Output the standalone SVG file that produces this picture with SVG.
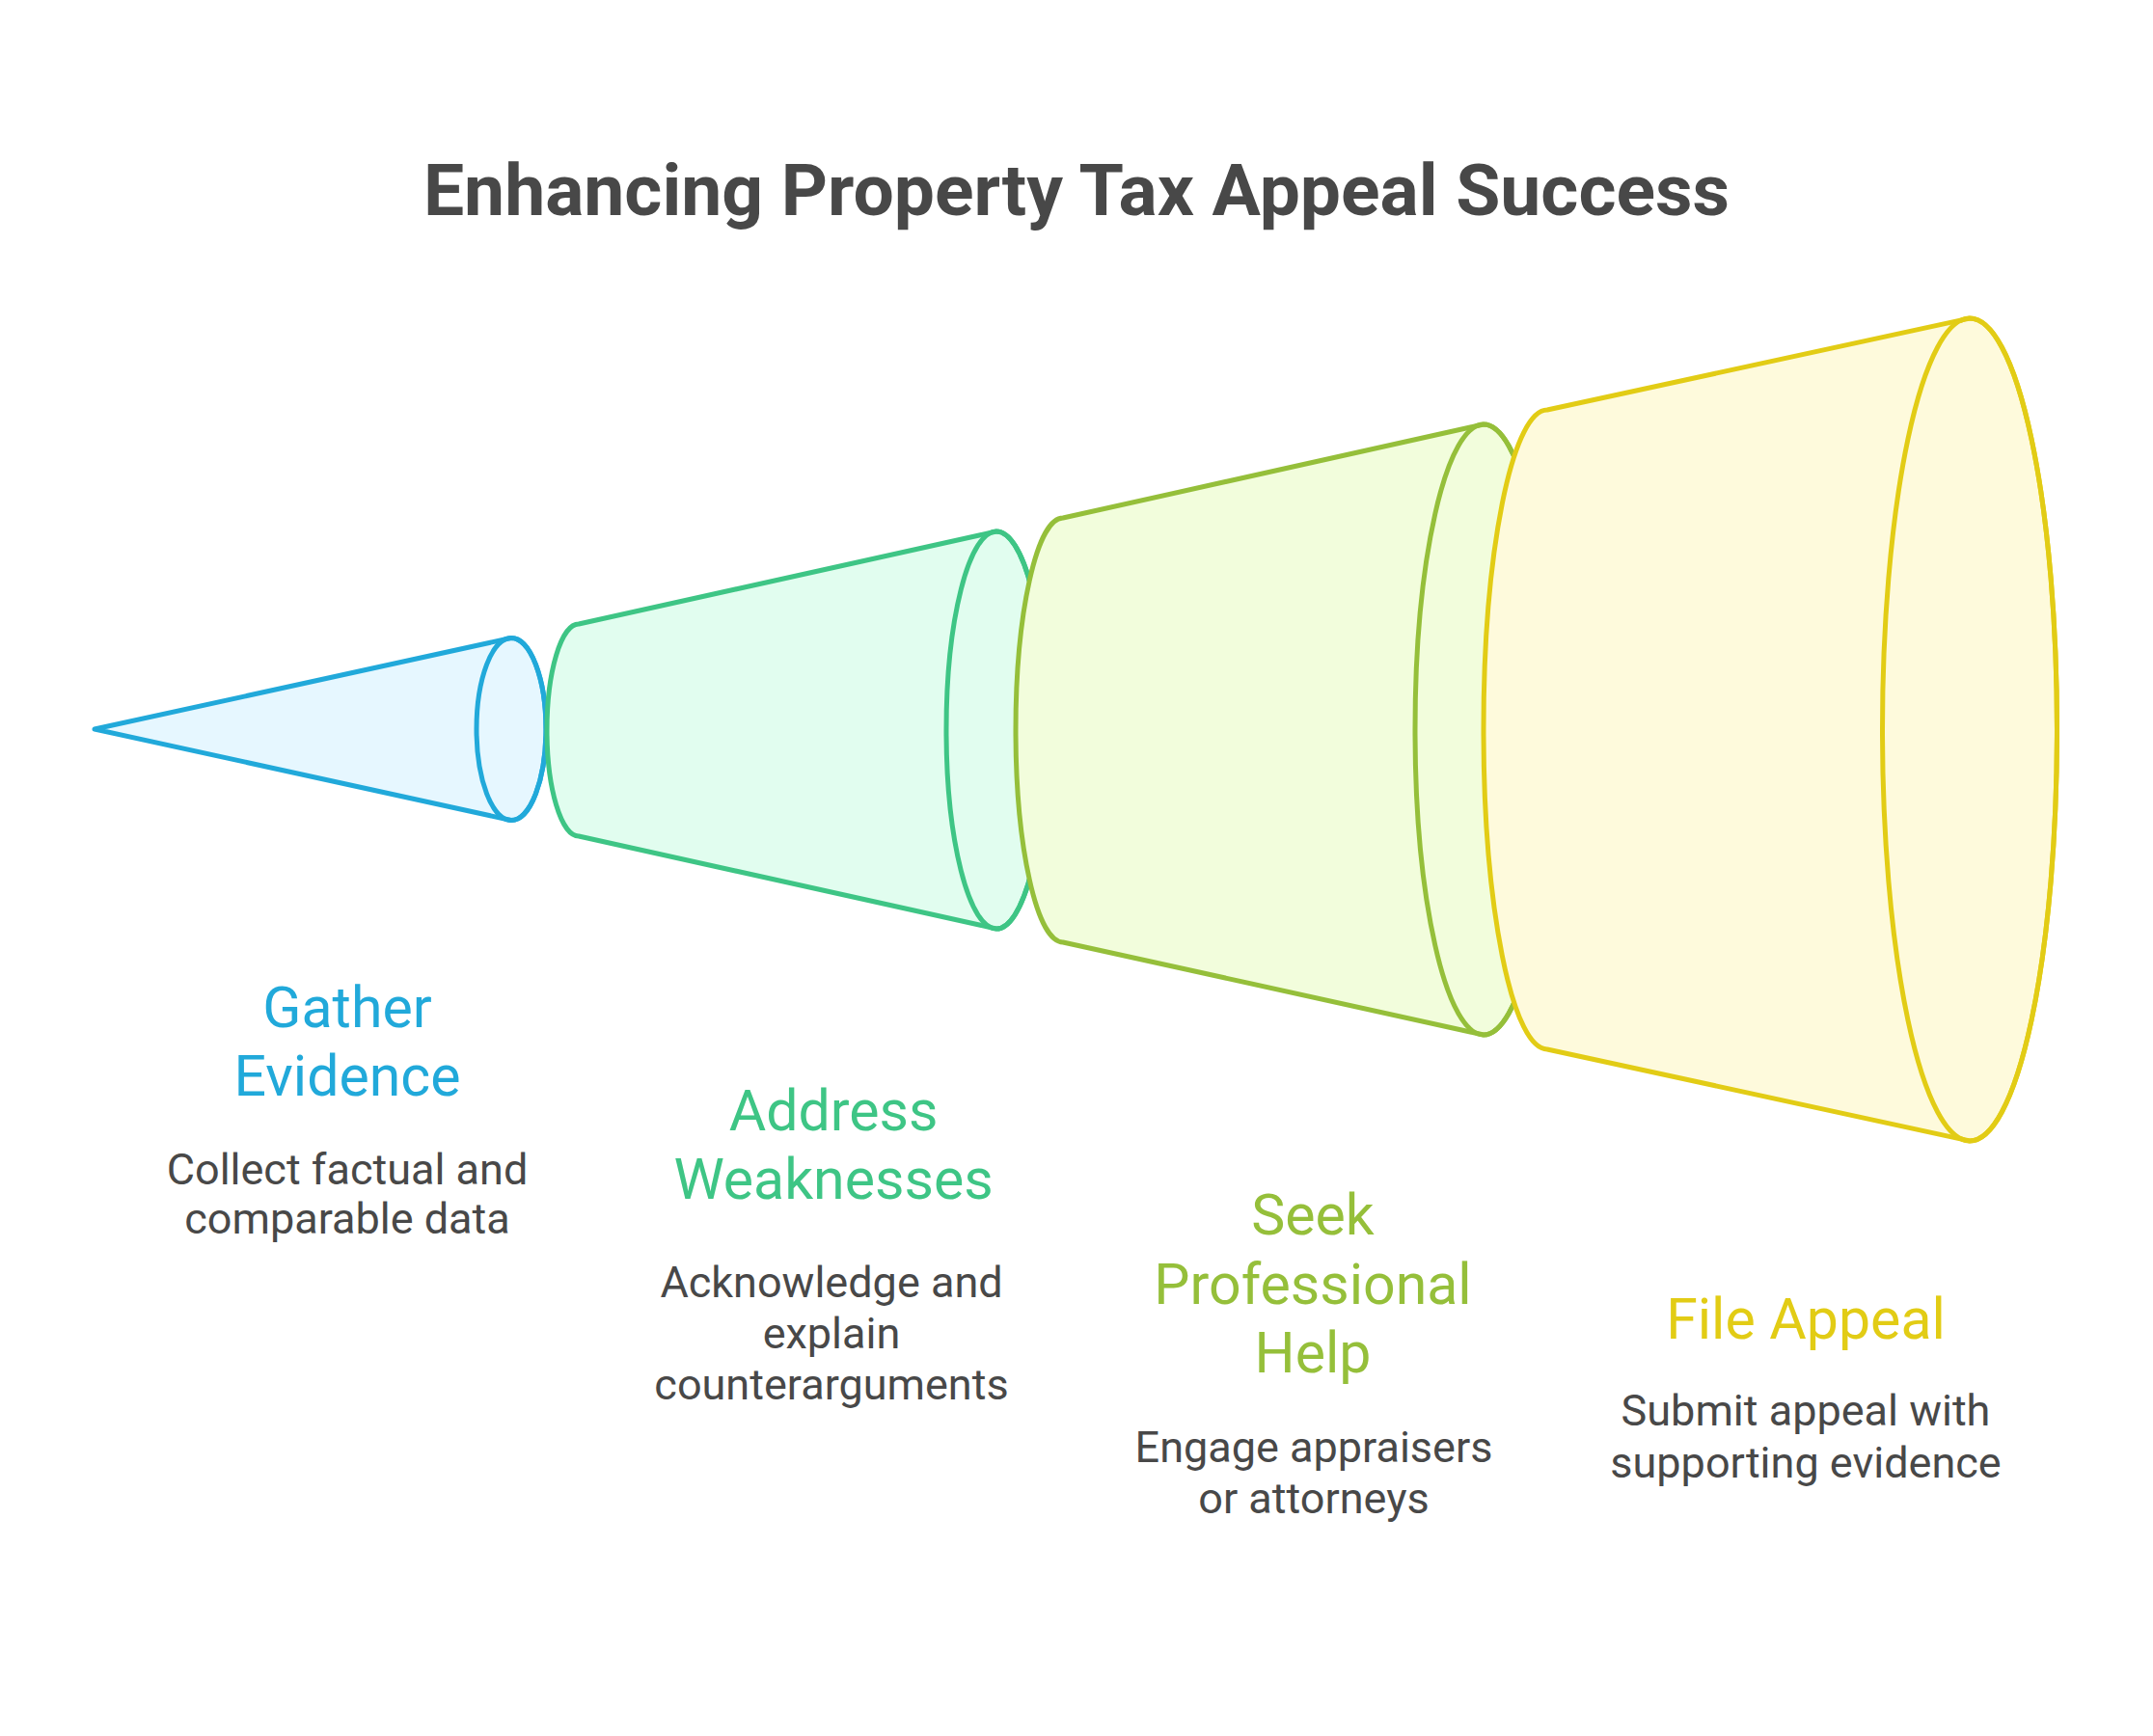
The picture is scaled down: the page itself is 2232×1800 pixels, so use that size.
<svg xmlns="http://www.w3.org/2000/svg" width="2232" height="1800" viewBox="0 0 2232 1800">
<style>
.shape{stroke-width:5;stroke-linejoin:round;stroke-linecap:round}
.ring{fill:none;stroke-width:5}
.head{font-family:Roboto,"Liberation Sans",sans-serif;font-size:59px;text-anchor:middle}
.desc{font-family:Roboto,"Liberation Sans",sans-serif;font-size:45px;fill:#484848;text-anchor:middle}
.title{font-family:Roboto,"Liberation Sans",sans-serif;font-size:75px;font-weight:bold;fill:#484848;text-anchor:middle}
.blue{stroke:#21A9DA;fill:#E6F7FF}
.green{stroke:#3EC585;fill:#E1FDEF}
.lime{stroke:#95BF3A;fill:#F2FDDC}
.yellow{stroke:#E2CC15;fill:#FEFADC}
</style>
<rect width="2232" height="1800" fill="#ffffff"/>
<text class="title" x="1116" y="223">Enhancing Property Tax Appeal Success</text>

<g id="gather-evidence">
<path class="shape blue" d="M 98 756 L 530 661.5 A 36 94.5 0 0 1 530 850.5 Z"/>
<ellipse class="ring" stroke="#21A9DA" cx="530" cy="756" rx="36" ry="94.5"/>
<text class="head" fill="#21A9DA" x="360" y="1065">Gather</text>
<text class="head" fill="#21A9DA" x="360" y="1136">Evidence</text>
<text class="desc" x="360" y="1228">Collect factual and</text>
<text class="desc" x="360" y="1279">comparable data</text>
</g>

<g id="address-weaknesses">
<path class="shape green" d="M 600 647 L 1033 551 A 52 206 0 0 1 1033 963 L 600 867 A 33 110 0 0 1 600 647 Z"/>
<ellipse class="ring" stroke="#3EC585" cx="1033" cy="757" rx="52" ry="206"/>
<text class="head" fill="#3EC585" x="864" y="1172">Address</text>
<text class="head" fill="#3EC585" x="864" y="1243">Weaknesses</text>
<text class="desc" x="862" y="1345">Acknowledge and</text>
<text class="desc" x="862" y="1398">explain</text>
<text class="desc" x="862" y="1451">counterarguments</text>
</g>

<g id="seek-professional-help">
<path class="shape lime" d="M 1102 537 L 1538 440 A 71 316.5 0 0 1 1538 1073 L 1102 977 A 49 220 0 0 1 1102 537 Z"/>
<ellipse class="ring" stroke="#95BF3A" cx="1538" cy="756.5" rx="71" ry="316.5"/>
<text class="head" fill="#95BF3A" x="1361" y="1280">Seek</text>
<text class="head" fill="#95BF3A" x="1361" y="1352">Professional</text>
<text class="head" fill="#95BF3A" x="1361" y="1423">Help</text>
<text class="desc" x="1362" y="1516">Engage appraisers</text>
<text class="desc" x="1362" y="1569">or attorneys</text>
</g>

<g id="file-appeal">
<path class="shape yellow" d="M 1604 425 L 2042 330 A 90.5 426.5 0 0 1 2042 1183 L 1604 1088 A 66 331.5 0 0 1 1604 425 Z"/>
<ellipse class="ring" stroke="#E2CC15" cx="2042" cy="756.5" rx="90.5" ry="426.5"/>
<text class="head" fill="#E2CC15" x="1872" y="1388">File Appeal</text>
<text class="desc" x="1872" y="1478">Submit appeal with</text>
<text class="desc" x="1872" y="1532">supporting evidence</text>
</g>
</svg>
